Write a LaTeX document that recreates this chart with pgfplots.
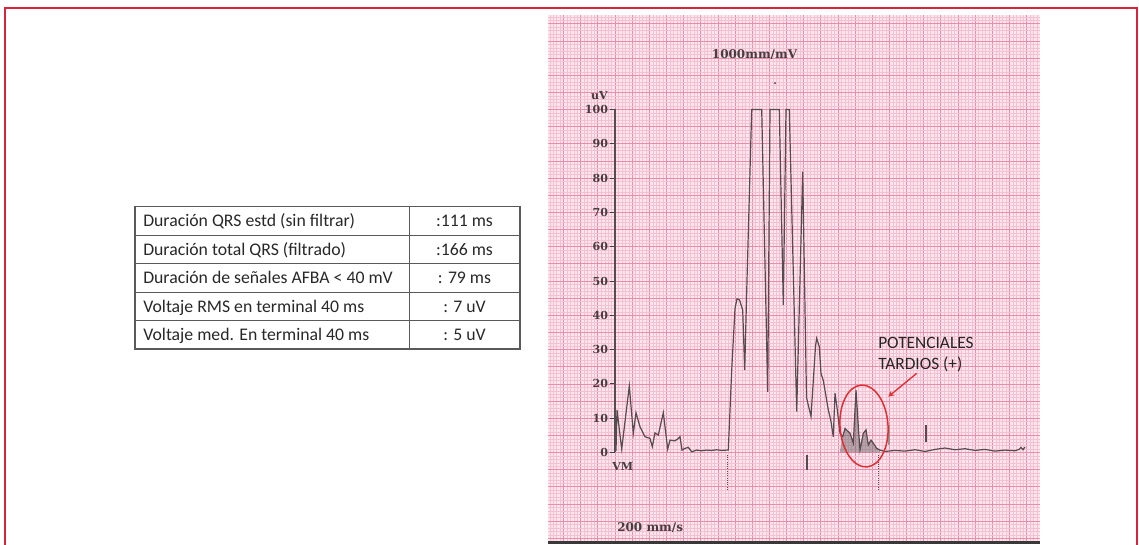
\documentclass[border=0pt]{standalone}
\usepackage{fontspec}
\setmainfont{Carlito}
\newfontfamily\ecgfont{DejaVu Serif}
\usepackage{pgfplots}
\pgfplotsset{compat=1.18}
\definecolor{slideRed}{RGB}{215,35,60}
\definecolor{paperBg}{RGB}{252,230,237}
\definecolor{minGrid}{RGB}{245,192,210}
\definecolor{majGrid}{RGB}{235,140,170}
\definecolor{traceCol}{RGB}{85,75,80}
\definecolor{ecgText}{RGB}{70,60,65}
\definecolor{tabLine}{RGB}{90,90,90}
\definecolor{tabText}{RGB}{40,40,40}
\definecolor{annotRed}{RGB}{225,45,50}
\begin{document}
\begin{tikzpicture}[x=0.75pt,y=0.75pt]
\useasboundingbox (0,0) rectangle (1139,544);
\fill[white] (0,0) rectangle (1139,544);
% slide frame
\draw[slideRed, line width=1pt] (5,-2) -- (5,536) -- (1137,536) -- (1137,-2);
% table
\draw[tabLine, line width=0.8pt] (135,195) rectangle (520,337.3);
\foreach \yy in {308.8,280.3,251.8,223.3} {\draw[tabLine, line width=0.8pt] (135,\yy) -- (520,\yy);}
\draw[tabLine, line width=0.8pt] (409.3,195) -- (409.3,337.3);
\begin{scope}[every node/.style={font=\fontsize{13.3}{15}\selectfont, text=tabText, inner sep=0pt}]
\node[anchor=base west] at (143,317.3) {Duración QRS estd (sin filtrar)};
\node[anchor=base west] at (143,288.8) {Duración total QRS (filtrado)};
\node[anchor=base west] at (143,260.3) {Duración de señales AFBA < 40 mV};
\node[anchor=base west] at (143,231.8) {Voltaje RMS en terminal 40 ms};
\node[anchor=base west] at (143,203.3) {Voltaje med. En terminal 40 ms};
\node[anchor=base] at (464.5,317.3) {:111 ms};
\node[anchor=base] at (464.5,288.8) {:166 ms};
\node[anchor=base] at (464.5,260.3) {: 79 ms};
\node[anchor=base] at (464.5,231.8) {: 7 uV};
\node[anchor=base] at (464.5,203.3) {: 5 uV};
\end{scope}
% ECG paper grid
\begin{axis}[at={(411pt,0pt)}, anchor=south west, x=0.75pt, y=2.5725pt,
  xmin=-67, xmax=425, ymin=-26.68, ymax=127.55,
  axis background/.style={fill=paperBg}, axis line style={draw=none},
  xtick distance=17.15, ytick distance=5, minor x tick num=4, minor y tick num=4,
  grid=both, major grid style={majGrid, line width=0.55pt},
  minor grid style={minGrid, line width=0.3pt},
  xticklabels={}, yticklabels={}, tick label style={opacity=0},
  major tick length=0pt, minor tick length=0pt]
\addplot[draw=none] coordinates {(0,0)};
\end{axis}
% ECG trace
\begin{axis}[at={(411pt,0pt)}, anchor=south west, x=0.75pt, y=2.5725pt,
  xmin=-67, xmax=425, ymin=-26.68, ymax=127.55,
  axis x line=none, axis y line=middle, axis line style={draw=none},
  ytick={0,10,...,100}, /pgf/number format/assume math mode=true,
  yticklabel style={font=\ecgfont\bfseries\fontsize{8.3}{9}\selectfont, text=ecgText, anchor=east, inner sep=1pt},
  tick align=outside, major tick length=4pt, ytick style={draw=ecgText, line width=0.7pt},
  clip=false]
\addplot[traceCol, line width=0.9pt] coordinates {(0,0)(0,100)};
\addplot[fill=gray!60!black, fill opacity=0.4, draw=none] coordinates {
(225,0.6)(227.7,4.6)(230,7.0)(235,5.6)(238.3,2.7)(241,18.2)(243.3,7.5)(245,0.7)(248.3,5.6)(251,6.6)(253.3,2.2)(256,3.6)(258.3,2.7)(261.7,1.2)(265,0.7)} \closedcycle;
\addplot[traceCol, line width=0.9pt] coordinates {
(1,0.5)(2,12.4)(6.7,1)(14.3,19.4)(18.3,5.6)(21,11.6)(25,7.5)(30,4.6)(35,4.1)(37.3,1.7)(40,5.7)(43.3,5.1)(48.3,11.6)(52.7,1)(55,3.6)(60,3.4)(63.3,4.1)(65,4.6)(67,0.7)(70,1.2)(73.3,1.5)(76.7,0.2)(81.7,0.7)(86.7,0.5)(91.7,0.7)(96.7,0.6)(101.7,0.8)(106.7,0.6)(111.7,0.7)(113.3,0.7)
(116.7,24)(120,42)(122,44.8)(124.5,44.5)(127.7,41.5)(129.7,24)(131.7,47)(136.7,100)(146.7,100)(152.7,17.7)(155,100)(164.3,100)(168.3,43)(171,100)(174.3,100)(181.7,11.9)(187.7,81.9)(191.5,16)(196,10.5)(200.5,31)(201.7,33.3)(204.3,30.8)(206,23)(208.3,21)(213.3,12.4)(215.7,9.5)(218.3,4.6)(220,17.3)(222.3,12.4)(225,5.6)
(227.7,4.6)(230,7.0)(235,5.6)(238.3,2.7)(241,18.2)(243.3,7.5)(245,0.7)(248.3,5.6)(251,6.6)(253.3,2.2)(256,3.6)(258.3,2.7)(261.7,1.2)(265,0.7)
(270,0.3)(280,0.6)(290,0.4)(300,0.8)(310,0.3)(320,0.9)(330,1.3)(340,0.8)(350,1.1)(360,0.6)(370,0.9)(380,0.4)(390,0.7)(400,0.5)(404,0.9)(406,1.5)(408,0.8)(410,1.6)};
\addplot[traceCol, densely dotted, line width=0.7pt] coordinates {(112.7,-0.7)(112.7,-11)};
\addplot[traceCol, densely dotted, line width=0.7pt] coordinates {(263.3,-0.7)(263.3,-11)};
\addplot[traceCol, line width=1.3pt] coordinates {(191.7,-0.7)(191.7,-5.1)};
\addplot[traceCol, line width=1.3pt] coordinates {(311,8)(311,3.1)};
\addplot[traceCol!60, line width=1pt] coordinates {(274,8)(274,2.2)};
\addplot[only marks, mark=*, mark size=0.5pt, traceCol] coordinates {(160,107.7)};
\end{axis}
% paper bottom edge
\fill[gray!45!black] (548,0) rectangle (1040,3);
% ECG texts
\node[font=\ecgfont\bfseries\fontsize{9}{10}\selectfont, text=ecgText, anchor=base, inner sep=0pt] at (754.5,485.3) {1000mm/mV};
\node[font=\ecgfont\bfseries\fontsize{8.3}{9}\selectfont, text=ecgText, anchor=east, inner sep=0pt] at (608,448) {uV};
\node[font=\ecgfont\bfseries\fontsize{8.3}{9}\selectfont, text=ecgText, anchor=base west, inner sep=0pt] at (612,73.3) {VM};
\node[font=\ecgfont\bfseries\fontsize{9}{10}\selectfont, text=ecgText, anchor=base west, inner sep=0pt] at (617,13) {200 mm/s};
% annotation
\draw[annotRed, line width=1.1pt, rotate around={4:(864,118)}] (864,118) ellipse [x radius=18pt, y radius=30.75pt];
\draw[annotRed, line width=1pt, -stealth] (916.7,170.7) -- (888.3,147.3);
\node[font=\fontsize{13}{15}\selectfont, text=black!85, anchor=base west, inner sep=0pt] at (878,195.7) {POTENCIALES};
\node[font=\fontsize{13}{15}\selectfont, text=black!85, anchor=base west, inner sep=0pt] at (878,174.4) {TARDIOS (+)};
\end{tikzpicture}
\end{document}
